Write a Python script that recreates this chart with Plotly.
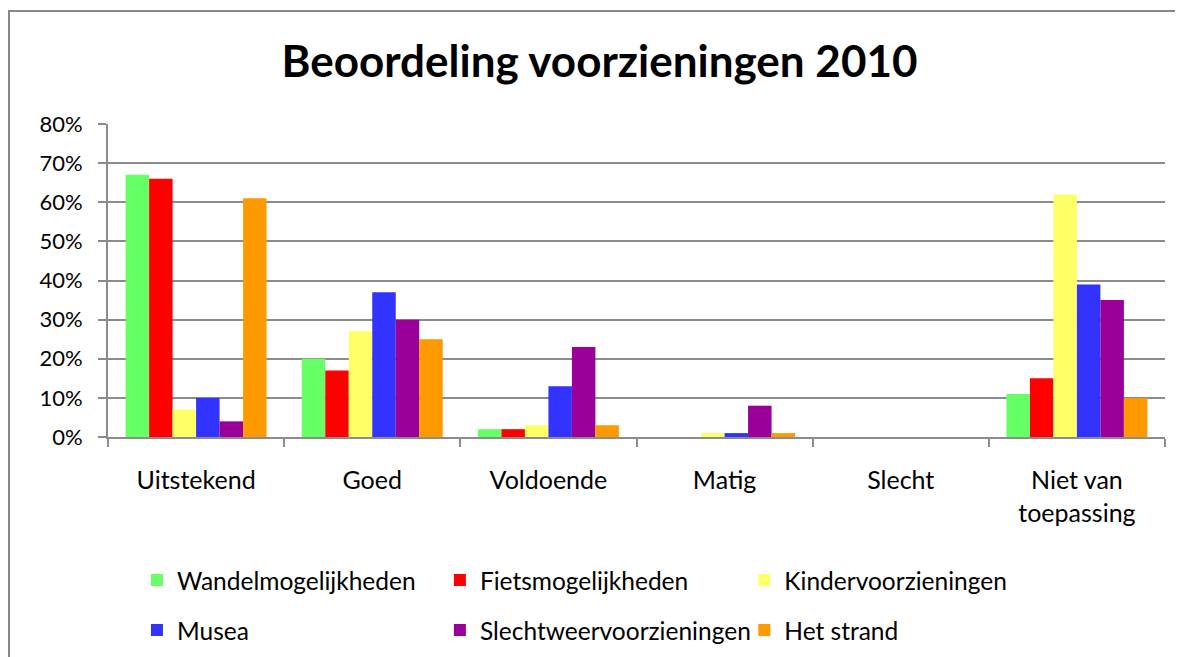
import plotly.graph_objects as go

# --- Data ---
categories = ["Uitstekend", "Goed", "Voldoende", "Matig", "Slecht", "Niet van<br>toepassing"]
wandel = [0.67, 0.20, 0.02, 0.00, 0.0, 0.11]
fiets = [0.66, 0.17, 0.02, 0.00, 0.0, 0.15]
kinder = [0.07, 0.27, 0.03, 0.01, 0.0, 0.62]
musea = [0.10, 0.37, 0.13, 0.01, 0.0, 0.39]
slechtweer = [0.04, 0.30, 0.23, 0.08, 0.0, 0.35]
strand = [0.61, 0.25, 0.03, 0.01, 0.0, 0.10]

series_names = ["Wandelmogelijkheden", "Fietsmogelijkheden", "Kindervoorzieningen",
                "Musea", "Slechtweervoorzieningen", "Het strand"]
series_values = [wandel, fiets, kinder, musea, slechtweer, strand]
series_colors = ["#66FF66", "#FF0000", "#FFFF66", "#3333FF", "#990099", "#FF9900"]

FONT = "Lato, 'Open Sans', sans-serif"
GRID = "#8C8C8C"

# legend slots: 3 columns x 2 rows, like the Excel layout
legend_x = [0.0274, 0.314, 0.602]
legend_y = [-0.457, -0.617]

fig = go.Figure()
legends = {}
for i, (name, vals, color) in enumerate(zip(series_names, series_values, series_colors)):
    key = "legend" if i == 0 else f"legend{i + 1}"
    fig.add_trace(go.Bar(
        x=categories, y=vals, name=name,
        marker=dict(color=color, line=dict(width=0)),
        legend=key,
    ))
    legends[key] = dict(
        orientation="h", xanchor="left", yanchor="middle",
        x=legend_x[i % 3], y=legend_y[i // 3], itemwidth=30,
        font=dict(size=24.5, family=FONT), bgcolor="rgba(0,0,0,0)",
    )

fig.update_layout(
    width=1183, height=657,
    barmode="group", bargap=0.2, bargroupgap=0,
    paper_bgcolor="white", plot_bgcolor="white",
    margin=dict(l=100, r=26, t=116, b=228, autoexpand=False),
    font=dict(family=FONT, size=20, color="black"),
    title=dict(text="<b>Beoordeling voorzieningen 2010</b>", x=0.5, xanchor="center",
               y=0.918, yanchor="middle", font=dict(size=44, family=FONT)),
    xaxis=dict(
        showline=True, linecolor=GRID, linewidth=2,
        ticks="outside", tickson="boundaries", ticklen=8, tickcolor=GRID, tickwidth=2,
        tickfont=dict(size=25), showgrid=False, ticklabelstandoff=20,
    ),
    yaxis=dict(
        range=[0, 0.8], dtick=0.1, tickformat=".0%",
        showline=True, linecolor=GRID, linewidth=2,
        ticks="outside", ticklen=8, tickcolor=GRID, tickwidth=2,
        gridcolor=GRID, gridwidth=2, zeroline=False,
        tickfont=dict(size=22), ticklabelstandoff=11,
    ),
    showlegend=True,
    **legends,
)

# outer chart border (open on the right, as in the cropped original)
fig.add_shape(type="rect", xref="paper", yref="paper",
              x0=-0.0937, x1=1.05, y0=-0.75, y1=1.361,
              line=dict(color="#868686", width=2), layer="below")

fig.write_html("out.html")
